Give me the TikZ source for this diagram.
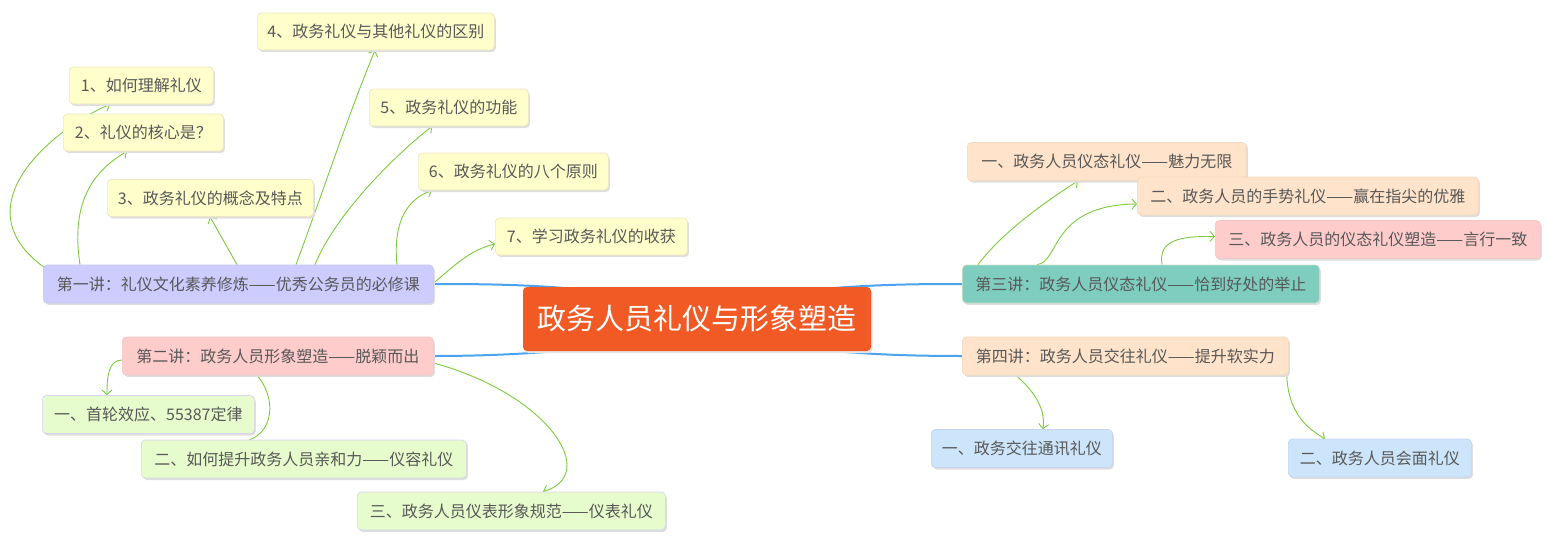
\documentclass[tikz,border=0pt]{standalone}
\usepackage{fontspec}
\setmainfont{Noto Sans CJK SC}
\usetikzlibrary{arrows.meta,shadows,calc}
\pgfdeclarelayer{bg}
\pgfsetlayers{bg,main}
\definecolor{txt}{HTML}{585858}
\definecolor{cline}{HTML}{7CCB3E}
\definecolor{bline}{HTML}{4BA3F0}
\definecolor{corange}{HTML}{F15A24}
\definecolor{fyel}{HTML}{FFFFCC}\definecolor{dyel}{HTML}{EDE6C2}
\definecolor{flav}{HTML}{CCCCFF}\definecolor{dlav}{HTML}{C4C4F2}
\definecolor{fpnk}{HTML}{FFCCCC}\definecolor{dpnk}{HTML}{F4C6C6}
\definecolor{ftea}{HTML}{7ECDBF}\definecolor{dtea}{HTML}{C9DFC8}
\definecolor{fpch}{HTML}{FFE3CA}\definecolor{dpch}{HTML}{F5D8C0}
\definecolor{fgrn}{HTML}{E6FCCC}\definecolor{dgrn}{HTML}{DCD4EE}
\definecolor{fblu}{HTML}{CCE5FA}\definecolor{dblu}{HTML}{C8D2F4}
\begin{document}
\begin{tikzpicture}[x=1pt,y=-1pt,
  base/.style={rounded corners=4pt, line width=0.7pt, text=txt,
    font=\fontsize{16}{19}\selectfont, inner xsep=0pt, inner ysep=0pt,
    minimum height=37pt, anchor=west,
    general shadow={fill=black!13, shadow xshift=1.5pt, shadow yshift=-2pt}},
  yel/.style={base, fill=fyel, draw=dyel},
  lav/.style={base, fill=flav, draw=dlav, minimum height=38pt},
  pnk/.style={base, fill=fpnk, draw=dpnk, minimum height=38pt},
  tea/.style={base, fill=ftea, draw=dtea, minimum height=38pt},
  pch/.style={base, fill=fpch, draw=dpch, minimum height=38pt},
  grn/.style={base, fill=fgrn, draw=dgrn, minimum height=38pt},
  blu/.style={base, fill=fblu, draw=dblu, minimum height=38pt},
  conn/.style={draw=cline, line width=0.9pt, -{Straight Barb[length=4.5pt,width=10pt]}},
  connplain/.style={draw=cline, line width=0.9pt},
  trunk/.style={draw=bline, line width=2pt},
]
\useasboundingbox (0,0) rectangle (1547,551);

% central
\node[rounded corners=4pt, fill=corange, text=white, font=\fontsize{29}{34}\selectfont,
  minimum width=348pt, minimum height=64pt, inner sep=0pt,
  general shadow={fill=black!10, shadow xshift=1.5pt, shadow yshift=-2pt}] (c) at (697,319) {政务人员礼仪与形象塑造};

% main branches
\node[lav, minimum width=390pt] (b1) at (43,284) {第一讲：礼仪文化素养修炼——优秀公务员的必修课};
\node[pnk, minimum width=311pt] (b2) at (122,356) {第二讲：政务人员形象塑造——脱颖而出};
\node[tea, minimum width=357pt] (b3) at (962,284) {第三讲：政务人员仪态礼仪——恰到好处的举止};
\node[pch, minimum width=326pt] (b4) at (962,356) {第四讲：政务人员交往礼仪——提升软实力};

% children of b1
\node[yel, minimum width=144pt] (n11) at (69,85.5) {1、如何理解礼仪};
\node[yel, minimum width=160pt] (n12) at (63,132.5) {2、礼仪的核心是？};
\node[yel, minimum width=206pt] (n13) at (107,198) {3、政务礼仪的概念及特点};
\node[yel, minimum width=237pt] (n14) at (257,31.5) {4、政务礼仪与其他礼仪的区别};
\node[yel, minimum width=159pt] (n15) at (369,107.5) {5、政务礼仪的功能};
\node[yel, minimum width=190pt] (n16) at (418,171.5) {6、政务礼仪的八个原则};
\node[yel, minimum width=192pt] (n17) at (495,236.5) {7、学习政务礼仪的收获};

% children of b2
\node[grn, minimum width=212pt] (n21) at (42,414.5) {一、首轮效应、55387定律};
\node[grn, minimum width=325pt] (n22) at (141,459) {二、如何提升政务人员亲和力——仪容礼仪};
\node[grn, minimum width=308pt] (n23) at (357,511) {三、政务人员仪表形象规范——仪表礼仪};

% children of b3
\node[pch, minimum width=279pt] (n31) at (967,161.5) {一、政务人员仪态礼仪——魅力无限};
\node[pch, minimum width=341pt] (n32) at (1137,196) {二、政务人员的手势礼仪——赢在指尖的优雅};
\node[pnk, minimum width=325pt] (n33) at (1215,239.5) {三、政务人员的仪态礼仪塑造——言行一致};

% children of b4
\node[blu, minimum width=181pt] (n41) at (931,448.5) {一、政务交往通讯礼仪};
\node[blu, minimum width=183pt] (n42) at (1288,458) {二、政务人员会面礼仪};

\begin{pgfonlayer}{bg}
% trunks
\draw[trunk] (c.center) .. controls (640,284) and (500,284) .. (b1.east);
\draw[trunk] (c.center) .. controls (640,352) and (500,356) .. (b2.east);
\draw[trunk] (c.center) .. controls (760,284) and (900,284) .. (b3.west);
\draw[trunk] (c.center) .. controls (760,354) and (900,356) .. (b4.west);

% b1 children
\draw[conn] ($(b1.north west)+(3,4)$) .. controls (-45,205) and (60,125) .. ($(n11.south west)+(41,0)$);
\draw[conn] ($(b1.north west)+(37,0)$) .. controls (70,200) and (95,170) .. ($(n12.south west)+(64,0)$);
\draw[conn] ($(b1.north west)+(194,0)$) -- ($(n13.south west)+(103,0)$);
\draw[conn] ($(b1.north west)+(253,0)$) .. controls (320,200) and (350,110) .. ($(n14.south west)+(118,0)$);
\draw[conn] ($(b1.north west)+(272,0)$) .. controls (335,215) and (395,155) .. ($(n15.south west)+(63,0)$);
\draw[conn] ($(b1.north west)+(354,0)$) .. controls (393,225) and (405,200) .. ($(n16.south west)+(14,0)$);
\draw[conn] ($(b1.east)+(0,-1)$) .. controls (455,265) and (470,250) .. ($(n17.west)+(0,7.5)$);

% b2 children
\draw[conn] ($(b2.west)+(0,4)$) .. controls (108,360) and (107,378) .. ($(n21.north west)+(65,0)$);
\draw[connplain] ($(b2.south west)+(135,0)$) .. controls (275,395) and (278,436) .. ($(n22.north west)+(99,3)$);
\draw[conn] ($(b2.east)+(0,7)$) .. controls (550,395) and (600,475) .. ($(n23.north west)+(186,0)$);

% b3 children
\draw[conn] ($(b3.north west)+(16,0)$) .. controls (1000,235) and (1040,205) .. ($(n31.south west)+(111,0)$);
\draw[conn] ($(b3.north west)+(75,0)$) .. controls (1060,262) and (1050,205) .. ($(n32.west)+(0,8)$);
\draw[conn] ($(b3.north west)+(200,0)$) .. controls (1158,240) and (1180,236) .. ($(n33.west)+(0,-3)$);

% b4 children
\draw[conn] ($(b4.south west)+(54,0)$) .. controls (1030,388) and (1046,405) .. ($(n41.north west)+(112,0)$);
\draw[conn] ($(b4.south east)+(-2,0)$) .. controls (1288,405) and (1300,425) .. ($(n42.north west)+(37,0)$);
\end{pgfonlayer}
\end{tikzpicture}
\end{document}
